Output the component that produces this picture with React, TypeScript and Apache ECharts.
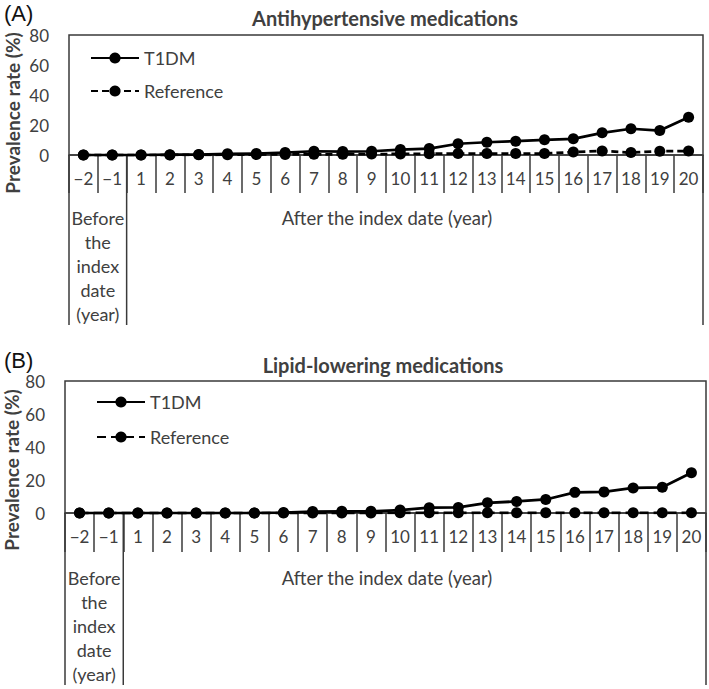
import React, { useEffect, useRef } from "react";
import * as echarts from "echarts";

const categories = ["−2", "−1", "1", "2", "3", "4", "5", "6", "7", "8", "9", "10", "11", "12", "13", "14", "15", "16", "17", "18", "19", "20"];
const seriesNames = ["T1DM", "Reference"];
const antiT1DM = [0, 0, 0, 0.2, 0.3, 0.8, 1.0, 1.6, 2.5, 2.3, 2.5, 3.6, 4.3, 7.5, 8.5, 9.2, 10.1, 10.8, 14.8, 17.5, 16.3, 25.2];
const antiRef = [0, 0, 0, 0, 0.1, 0.2, 0.3, 0.4, 0.5, 0.5, 0.6, 0.7, 0.8, 1.0, 1.0, 1.0, 1.0, 2.0, 2.7, 1.6, 2.5, 2.6];
const lipidT1DM = [0, 0, 0, 0, 0, 0, 0, 0.3, 0.9, 1.0, 1.0, 1.8, 3.2, 3.4, 6.2, 7.0, 8.2, 12.5, 12.8, 15.2, 15.6, 24.4];
const lipidRef = [0, 0, 0, 0, 0, 0, 0, 0, 0, 0, 0, 0.1, 0.1, 0.1, 0.1, 0.1, 0.1, 0.1, 0.1, 0.1, 0.1, 0.1];
const yMin = 0;
const yMax = 80;
const yInterval = 20;
const titles = ["Antihypertensive medications", "Lipid-lowering medications"];
const panelLabels = ["(A)", "(B)"];
const yName = "Prevalence rate (%)";
const beforeLabel = "Before\nthe\nindex\ndate\n(year)";
const afterLabel = "After the index date (year)";

const TEXT = "#404040";
const LINE = "#3a3a3a";
const FONT = "Lato, 'Open Sans', sans-serif";

type Layout = {
  top: number;
  height: number;
  gridLeft: number;
  gridTop: number;
  gridWidth: number;
  gridHeight: number;
  tickLen: number;
  extendTo: number;
  titleX: number;
  titleY: number;
  labelY: number;
  legendLeft: number;
  legendTop: number;
  legendGap: number;
  beforeTop: number;
  afterY: number;
  afterX: number;
  dash: number[];
  nameX: number;
  nameY: number;
};

const layouts: Layout[] = [
  {
    top: 0, height: 340, gridLeft: 69, gridTop: 35, gridWidth: 634, gridHeight: 120,
    tickLen: 38, extendTo: 325, titleX: 385, titleY: 18, labelY: 13,
    legendLeft: 85, legendTop: 44, legendGap: 15, beforeTop: 206, afterY: 218, afterX: 387,
    dash: [7, 4], nameX: 12, nameY: 113,
  },
  {
    top: 340, height: 349, gridLeft: 65, gridTop: 41, gridWidth: 641, gridHeight: 132,
    tickLen: 39, extendTo: 345, titleX: 383, titleY: 25, labelY: 20,
    legendLeft: 91, legendTop: 48, legendGap: 17, beforeTop: 226, afterY: 238, afterX: 387,
    dash: [9, 5], nameX: 11, nameY: 130,
  },
];

function Panel({ idx, t1dm, ref2 }: { idx: number; t1dm: number[]; ref2: number[] }) {
  const divRef = useRef<HTMLDivElement>(null);
  const L = layouts[idx];
  useEffect(() => {
    if (!divRef.current) return;
    const chart = echarts.init(divRef.current, undefined, { renderer: "svg" });
    const axisY = L.gridTop + L.gridHeight;
    const bw = L.gridWidth / categories.length;
    const extXs = [L.gridLeft, L.gridLeft + 2 * bw, L.gridLeft + L.gridWidth];
    chart.setOption({
      animation: false,
      grid: {
        left: L.gridLeft, top: L.gridTop, width: L.gridWidth, height: L.gridHeight,
        show: true, borderColor: LINE, borderWidth: 1.5, backgroundColor: "transparent",
      },
      legend: {
        orient: "vertical", left: L.legendLeft, top: L.legendTop, itemGap: L.legendGap,
        itemWidth: 48, itemHeight: 14, data: seriesNames,
        textStyle: { fontSize: 18, color: TEXT, fontFamily: FONT },
      },
      xAxis: {
        type: "category", data: categories, boundaryGap: true,
        axisLine: { show: true, lineStyle: { color: LINE, width: 1.5 } },
        axisTick: { show: true, interval: 0, length: L.tickLen, lineStyle: { color: LINE, width: 1.5 } },
        axisLabel: { interval: 0, margin: 15, fontSize: 17, color: TEXT, fontFamily: FONT },
        splitLine: { show: false },
      },
      yAxis: {
        type: "value", min: yMin, max: yMax, interval: yInterval,
        axisLine: { show: false }, axisTick: { show: false }, splitLine: { show: false },
        axisLabel: { margin: 20, fontSize: 17, color: TEXT, fontFamily: FONT },
      },
      series: [
        {
          name: seriesNames[0], type: "line", data: t1dm, symbol: "circle", symbolSize: 11,
          itemStyle: { color: "#000" }, lineStyle: { color: "#000", width: 2.75 }, z: 3,
        },
        {
          name: seriesNames[1], type: "line", data: ref2, symbol: "circle", symbolSize: 11,
          itemStyle: { color: "#000" }, lineStyle: { color: "#000", width: 2.75, type: L.dash }, z: 2,
        },
      ],
      graphic: [
        ...extXs.map((x) => ({
          type: "line", shape: { x1: x, y1: axisY, x2: x, y2: L.extendTo },
          style: { stroke: LINE, lineWidth: 1.5 }, silent: true,
        })),
        {
          type: "text", x: L.titleX, y: L.titleY,
          style: { text: titles[idx], textAlign: "center", textVerticalAlign: "middle", fontSize: 20, fontWeight: "bold", fill: TEXT, fontFamily: FONT },
        },
        {
          type: "text", x: 4, y: L.labelY,
          style: { text: panelLabels[idx], textAlign: "left", textVerticalAlign: "middle", fontSize: 22, fill: "#111", fontFamily: "'Liberation Sans', Arial, sans-serif" },
        },
        {
          type: "text", x: L.nameX, y: L.nameY, rotation: Math.PI / 2,
          style: { text: yName, textAlign: "center", textVerticalAlign: "middle", fontSize: 19, fontWeight: "bold", fill: TEXT, fontFamily: FONT },
        },
        {
          type: "text", x: L.gridLeft + bw, y: L.beforeTop,
          style: { text: beforeLabel, textAlign: "center", textVerticalAlign: "top", fontSize: 18, lineHeight: 24, fill: TEXT, fontFamily: FONT },
        },
        {
          type: "text", x: L.afterX, y: L.afterY,
          style: { text: afterLabel, textAlign: "center", textVerticalAlign: "middle", fontSize: 18.5, fill: TEXT, fontFamily: FONT },
        },
      ],
    });
    return () => chart.dispose();
  }, []);
  return (
    <div
      ref={divRef}
      style={{ position: "absolute", left: 0, top: L.top, width: 709, height: L.height }}
    />
  );
}

export default function App() {
  return (
    <div style={{ position: "absolute", left: 0, top: 0, width: 709, height: 689, background: "#fff" }}>
      <Panel idx={0} t1dm={antiT1DM} ref2={antiRef} />
      <Panel idx={1} t1dm={lipidT1DM} ref2={lipidRef} />
    </div>
  );
}
